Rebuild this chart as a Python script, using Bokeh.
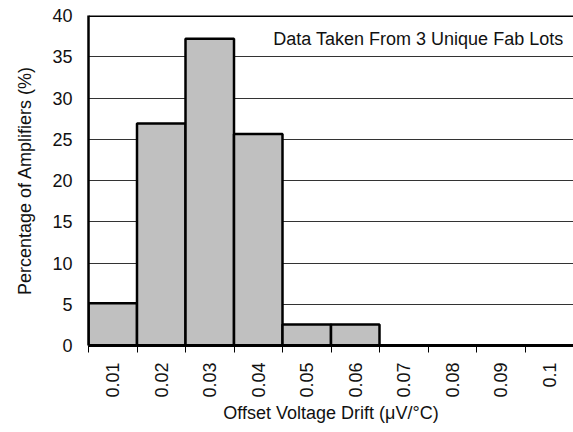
import math
from bokeh.plotting import figure
from bokeh.models import Range1d, FixedTicker, Span, Label
from bokeh.embed import file_html
from bokeh.resources import INLINE

# ---- data ----
categories = ["0.01", "0.02", "0.03", "0.04", "0.05", "0.06", "0.07", "0.08", "0.09", "0.1"]
percent = [5.13, 26.92, 37.18, 25.64, 2.56, 2.56, 0, 0, 0, 0]
y_ticks = [0, 5, 10, 15, 20, 25, 30, 35, 40]
note = "Data Taken From 3 Unique Fab Lots"
x_title = "Offset Voltage Drift (\u03bcV/\u00b0C)"
y_title = "Percentage of Amplifiers (%)"

FONT = "Liberation Sans"
FS = "18px"
TXT = "#111111"

idx = list(range(len(categories)))
bounds = [i - 0.5 for i in range(len(categories) + 1)]

p = figure(width=573, height=432,
           x_range=Range1d(-0.5, len(categories) - 0.5),
           y_range=Range1d(y_ticks[0], y_ticks[-1]),
           output_backend="svg", toolbar_location=None,
           min_border_left=88, min_border_right=0,
           min_border_top=15, min_border_bottom=87)
p.outline_line_color = None
p.background_fill_color = "white"
p.border_fill_color = "white"

p.vbar(x=idx, top=percent, width=1, fill_color="#c0c0c0",
       line_color="black", line_width=2.5)

# x axis
xa = p.xaxis[0]
xa.ticker = FixedTicker(ticks=idx, minor_ticks=bounds)
xa.major_label_overrides = {i: c for i, c in zip(idx, categories)}
xa.major_label_orientation = math.pi / 2
xa.major_tick_out = 0
xa.major_tick_in = 0
xa.minor_tick_out = 7
xa.minor_tick_in = 0
xa.minor_tick_line_color = "black"
xa.minor_tick_line_width = 1
xa.axis_line_width = 3
xa.axis_line_color = "black"
xa.major_label_standoff = 10
xa.major_label_text_font = FONT
xa.major_label_text_font_size = FS
xa.major_label_text_color = TXT
xa.axis_label = x_title
xa.axis_label_text_font = FONT
xa.axis_label_text_font_size = FS
xa.axis_label_text_font_style = "normal"
xa.axis_label_text_color = TXT
xa.axis_label_standoff = 2

# y axis
ya = p.yaxis[0]
ya.ticker = FixedTicker(ticks=y_ticks)
ya.major_tick_out = 0
ya.major_tick_in = 0
ya.minor_tick_line_color = None
ya.axis_line_width = 2.5
ya.axis_line_color = "black"
ya.major_label_standoff = 16
ya.major_label_text_font = FONT
ya.major_label_text_font_size = FS
ya.major_label_text_color = TXT
ya.axis_label = y_title
ya.axis_label_text_font = FONT
ya.axis_label_text_font_size = FS
ya.axis_label_text_font_style = "normal"
ya.axis_label_text_color = TXT
ya.axis_label_standoff = 14

p.xgrid.grid_line_color = None
p.ygrid.ticker = FixedTicker(ticks=y_ticks)
p.ygrid.grid_line_color = "#333333"
p.ygrid.grid_line_width = 1

p.add_layout(Span(location=y_ticks[-1], dimension="width",
                  line_color="black", line_width=3))

p.add_layout(Label(x=len(categories) - 0.5, y=y_ticks[-1], x_offset=-10, y_offset=-23,
                   text=note, text_align="right", text_baseline="alphabetic",
                   text_font=FONT, text_font_size=FS, text_color=TXT))

open("out.html", "w").write(file_html(p, INLINE))
